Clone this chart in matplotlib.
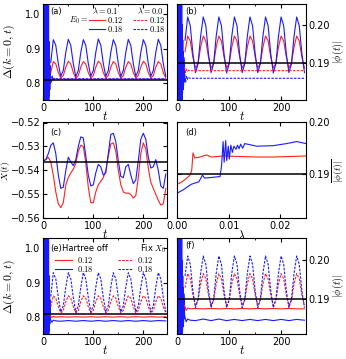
import numpy as np
import matplotlib
matplotlib.use('Agg')
import matplotlib.pyplot as plt

plt.rcParams['font.family'] = ['DejaVu Sans']
plt.rcParams['mathtext.fontset'] = 'cm'
plt.rcParams['xtick.direction'] = 'in'
plt.rcParams['ytick.direction'] = 'in'
plt.rcParams['xtick.top'] = True
plt.rcParams['ytick.right'] = True
plt.rcParams['xtick.major.size'] = 3
plt.rcParams['ytick.major.size'] = 3
plt.rcParams['xtick.minor.size'] = 1.5
plt.rcParams['ytick.minor.size'] = 1.5
plt.rcParams['font.size'] = 7

# ---------------- data ----------------
t_tr = np.arange(0, 14.5, 0.5)            # transient sample times
t_osc = np.arange(15, 246, 5)             # oscillation sample times

# transient (blue blob / red underneath), panels a & e (Delta)
delta_tr_blue = [0.81, 1.06, 0.74, 1.06, 0.74, 1.06, 0.74, 1.06, 0.74, 1.06, 0.74, 1.06, 0.74,
                 1.06, 0.74, 1.06, 0.74, 1.06, 0.74, 1.06, 0.74, 1.06, 0.74, 0.92, 0.76, 0.87,
                 0.78, 0.85, 0.80]
delta_tr_red = [0.81, 0.95, 0.76, 0.95, 0.76, 0.95, 0.76, 0.95, 0.76, 0.95, 0.76, 0.95, 0.76,
                0.95, 0.76, 0.93, 0.77, 0.91, 0.78, 0.89, 0.79, 0.87, 0.79, 0.85, 0.80, 0.84,
                0.80, 0.83, 0.81]
# transient, panels b & f (|phi|)
phi_tr_blue = [0.190, 0.207, 0.180, 0.207, 0.180, 0.207, 0.180, 0.207, 0.180, 0.207, 0.180,
               0.207, 0.180, 0.207, 0.180, 0.207, 0.180, 0.207, 0.180, 0.200, 0.182, 0.196,
               0.183, 0.193, 0.184, 0.1915, 0.185, 0.190, 0.186]
phi_tr_red = [0.190, 0.200, 0.181, 0.200, 0.181, 0.200, 0.181, 0.200, 0.181, 0.199, 0.182,
              0.198, 0.183, 0.197, 0.184, 0.196, 0.185, 0.195, 0.186, 0.194, 0.186, 0.193,
              0.187, 0.192, 0.187, 0.191, 0.1875, 0.190, 0.188]

# (a) lambda=0.1 Delta(k=0,t)
delta_a_018 = [0.860,
               0.926, 0.909, 0.856, 0.819, 0.836, 0.889,
               0.927, 0.909, 0.856, 0.818, 0.836, 0.889,
               0.926, 0.909, 0.856, 0.819, 0.836, 0.889,
               0.928, 0.910, 0.856, 0.819, 0.836, 0.889,
               0.926, 0.909, 0.856, 0.818, 0.836, 0.889,
               0.927, 0.909, 0.856, 0.819, 0.836, 0.889,
               0.926, 0.909, 0.856, 0.819, 0.836, 0.889,
               0.927, 0.909, 0.856, 0.819]
delta_a_012 = [0.830,
               0.862, 0.855, 0.830, 0.814, 0.821, 0.846,
               0.863, 0.855, 0.830, 0.813, 0.821, 0.846,
               0.862, 0.855, 0.830, 0.814, 0.821, 0.846,
               0.863, 0.856, 0.830, 0.814, 0.821, 0.846,
               0.862, 0.855, 0.830, 0.813, 0.821, 0.846,
               0.862, 0.855, 0.830, 0.814, 0.821, 0.846,
               0.863, 0.855, 0.830, 0.814, 0.821, 0.846,
               0.862, 0.855, 0.830, 0.814]
# (a) lambda=0.0 (flat after transient)
t_flat = [14, 16, 18, 20, 22, 25, 245]
delta_a0_012 = [0.820, 0.805, 0.815, 0.809, 0.812, 0.811, 0.811]
delta_a0_018 = [0.830, 0.800, 0.820, 0.806, 0.814, 0.812, 0.812]
delta_eq = 0.807

# (b) |phi(t)|
phi_b_018 = [0.1960,
             0.2021, 0.1998, 0.1925, 0.1875, 0.1898, 0.1971,
             0.2021, 0.1998, 0.1925, 0.1875, 0.1898, 0.1971,
             0.2021, 0.1998, 0.1925, 0.1874, 0.1898, 0.1971,
             0.2021, 0.1998, 0.1925, 0.1875, 0.1898, 0.1971,
             0.2021, 0.1998, 0.1925, 0.1875, 0.1898, 0.1971,
             0.2021, 0.1998, 0.1925, 0.1874, 0.1898, 0.1971,
             0.2021, 0.1998, 0.1925, 0.1875, 0.1898, 0.1971,
             0.2021, 0.1998, 0.1925, 0.1875]
phi_b_012 = [0.1930,
             0.1971, 0.1958, 0.1916, 0.1887, 0.1900, 0.1942,
             0.1971, 0.1958, 0.1916, 0.1887, 0.1900, 0.1942,
             0.1971, 0.1958, 0.1916, 0.1887, 0.1900, 0.1942,
             0.1971, 0.1958, 0.1916, 0.1887, 0.1900, 0.1942,
             0.1971, 0.1958, 0.1916, 0.1887, 0.1900, 0.1942,
             0.1971, 0.1958, 0.1916, 0.1887, 0.1900, 0.1942,
             0.1971, 0.1958, 0.1916, 0.1887, 0.1900, 0.1942,
             0.1971, 0.1958, 0.1916, 0.1887]
phi_b0_012 = [0.1890, 0.1875, 0.1884, 0.1879, 0.1881, 0.1880, 0.1880]
phi_b0_018 = [0.1880, 0.1850, 0.1866, 0.1857, 0.1861, 0.1860, 0.1860]
phi_eq = 0.190

# (c) X(t)
t_c = np.arange(0, 246, 5)
X_018 = [-0.536, -0.5355, -0.533, -0.5295, -0.5285, -0.533, -0.542, -0.5475, -0.547, -0.540,
         -0.5345, -0.5365, -0.538, -0.5355, -0.530, -0.526, -0.5265, -0.534, -0.542, -0.5465,
         -0.546, -0.541, -0.5375, -0.5385, -0.542, -0.541, -0.533, -0.525, -0.5245, -0.528,
         -0.536, -0.5425, -0.543, -0.5385, -0.5375, -0.542, -0.5455, -0.544, -0.536, -0.527,
         -0.5245, -0.527, -0.5345, -0.539, -0.5385, -0.5355, -0.540, -0.5465, -0.5475, -0.5415]
X_012 = [-0.536, -0.5355, -0.5345, -0.5365, -0.542, -0.549, -0.554, -0.5555, -0.5535, -0.546,
         -0.543, -0.541, -0.5395, -0.537, -0.532, -0.5295, -0.530, -0.537, -0.547, -0.5535,
         -0.5535, -0.549, -0.546, -0.5445, -0.543, -0.540, -0.534, -0.529, -0.5285, -0.532,
         -0.540, -0.546, -0.549, -0.5495, -0.5495, -0.550, -0.5515, -0.5505, -0.543, -0.533,
         -0.5285, -0.531, -0.539, -0.545, -0.5475, -0.550, -0.5525, -0.5545, -0.554, -0.5475]
X_eq = -0.5363

# (d) time-averaged |phi| vs lambda
lam_018 = [0.0, 0.0011, 0.0027, 0.0042, 0.0049, 0.0053, 0.0063, 0.0083, 0.0086, 0.0089, 0.0091,
           0.0094, 0.0096, 0.0099, 0.0101, 0.0104, 0.0107, 0.0110, 0.0114, 0.0117, 0.0120,
           0.0123, 0.0127, 0.0131, 0.0141, 0.0154, 0.0186, 0.0212, 0.0232, 0.025]
phibar_018 = [0.1863, 0.1869, 0.1880, 0.1885, 0.1898, 0.1892, 0.1893, 0.1895, 0.1916, 0.1963,
              0.1923, 0.1965, 0.1926, 0.1954, 0.1929, 0.1956, 0.1942, 0.1954, 0.1948, 0.1956,
              0.1949, 0.1958, 0.1950, 0.1959, 0.1957, 0.1954, 0.1955, 0.1959, 0.1963, 0.1959]
lam_012 = [0.0, 0.0011, 0.0024, 0.0028, 0.00305, 0.0034, 0.0044, 0.0057, 0.0066, 0.0089,
           0.0154, 0.0186, 0.025]
phibar_012 = [0.1880, 0.1886, 0.1897, 0.1907, 0.1941, 0.1931, 0.1933, 0.1937, 0.1933, 0.1935,
              0.1933, 0.1933, 0.1935]

# (e) Delta: Hartree off (solid) vs fix X0 (dashed)
delta_e_fix_018 = [0.860,
                   0.929, 0.911, 0.857, 0.815, 0.833, 0.887,
                   0.929, 0.911, 0.857, 0.815, 0.833, 0.887,
                   0.929, 0.911, 0.857, 0.815, 0.833, 0.887,
                   0.929, 0.911, 0.857, 0.815, 0.833, 0.887,
                   0.929, 0.911, 0.857, 0.815, 0.833, 0.887,
                   0.929, 0.911, 0.857, 0.815, 0.833, 0.887,
                   0.929, 0.911, 0.857, 0.815, 0.833, 0.887,
                   0.929, 0.911, 0.857, 0.815]
delta_e_fix_012 = [0.830,
                   0.862, 0.855, 0.830, 0.812, 0.819, 0.845,
                   0.862, 0.855, 0.830, 0.812, 0.819, 0.845,
                   0.862, 0.855, 0.830, 0.812, 0.819, 0.845,
                   0.862, 0.855, 0.830, 0.812, 0.819, 0.845,
                   0.862, 0.855, 0.830, 0.812, 0.819, 0.845,
                   0.862, 0.855, 0.830, 0.812, 0.819, 0.845,
                   0.862, 0.855, 0.830, 0.812, 0.819, 0.845,
                   0.862, 0.855, 0.830, 0.812]
t_off = [14, 17, 20, 25, 35, 50, 65, 80, 95, 110, 125, 140, 155, 170, 185, 200, 215, 230, 245]
delta_e_off_012 = [0.805, 0.799, 0.802, 0.800, 0.801, 0.800, 0.801, 0.800, 0.801, 0.800, 0.801,
                   0.800, 0.801, 0.800, 0.801, 0.800, 0.801, 0.800, 0.801]
delta_e_off_018 = [0.795, 0.785, 0.791, 0.789, 0.788, 0.790, 0.788, 0.790, 0.788, 0.790, 0.788,
                   0.790, 0.788, 0.790, 0.788, 0.790, 0.788, 0.790, 0.789]
delta_eq_e = 0.810

# (f) |phi|: Hartree off (solid) vs fix X0 (dashed)
phi_f_fix_018 = [0.1960,
                 0.2011, 0.1990, 0.1923, 0.1879, 0.1900, 0.1967,
                 0.2011, 0.1990, 0.1923, 0.1879, 0.1900, 0.1967,
                 0.2011, 0.1990, 0.1923, 0.1879, 0.1900, 0.1967,
                 0.2011, 0.1990, 0.1923, 0.1879, 0.1900, 0.1967,
                 0.2011, 0.1990, 0.1923, 0.1879, 0.1900, 0.1967,
                 0.2011, 0.1990, 0.1923, 0.1879, 0.1900, 0.1967,
                 0.2011, 0.1990, 0.1923, 0.1879, 0.1900, 0.1967,
                 0.2011, 0.1990, 0.1923, 0.1879]
phi_f_fix_012 = [0.1930,
                 0.1966, 0.1953, 0.1912, 0.1885, 0.1898, 0.1940,
                 0.1966, 0.1953, 0.1912, 0.1885, 0.1898, 0.1940,
                 0.1966, 0.1953, 0.1912, 0.1885, 0.1898, 0.1940,
                 0.1966, 0.1953, 0.1912, 0.1885, 0.1898, 0.1940,
                 0.1966, 0.1953, 0.1912, 0.1885, 0.1898, 0.1940,
                 0.1966, 0.1953, 0.1912, 0.1885, 0.1898, 0.1940,
                 0.1966, 0.1953, 0.1912, 0.1885, 0.1898, 0.1940,
                 0.1966, 0.1953, 0.1912, 0.1885]
phi_f_off_012 = [0.1885, 0.1872, 0.1878, 0.1876, 0.1877, 0.1876, 0.1877, 0.1876, 0.1877, 0.1876,
                 0.1877, 0.1876, 0.1877, 0.1876, 0.1877, 0.1876, 0.1877, 0.1876, 0.1876]
phi_f_off_018 = [0.1860, 0.1843, 0.1850, 0.1847, 0.1846, 0.1850, 0.1846, 0.1850, 0.1846, 0.1849,
                 0.1846, 0.1849, 0.1846, 0.1849, 0.1846, 0.1849, 0.1846, 0.1849, 0.1847]

E0_labels = ['0.12', '0.18']

# ---------------- figure ----------------
W, H = 346, 359
fig = plt.figure(figsize=(W / 100, H / 100), dpi=100)

def rect(x0, y0, x1, y1):
    return [x0 / W, 1 - y1 / H, (x1 - x0) / W, (y1 - y0) / H]

colL = (43.3, 167.3)
colR = (177.3, 306.0)
rows = [(4, 100), (122.5, 218.3), (238, 334.3)]

axa = fig.add_axes(rect(colL[0], rows[0][0], colL[1], rows[0][1]))
axb = fig.add_axes(rect(colR[0], rows[0][0], colR[1], rows[0][1]))
axc = fig.add_axes(rect(colL[0], rows[1][0], colL[1], rows[1][1]))
axd = fig.add_axes(rect(colR[0], rows[1][0], colR[1], rows[1][1]))
axe = fig.add_axes(rect(colL[0], rows[2][0], colL[1], rows[2][1]))
axf = fig.add_axes(rect(colR[0], rows[2][0], colR[1], rows[2][1]))

lw = 0.8
RED = '#ff2020'
BLUE = '#1a1aff'
tmax = 248
TL = 7        # tick label size
LEG = 6       # legend text size
PANEL = 6     # panel letter size
DASH = (2.2, 1.2)

def time_axis(ax):
    ax.set_xlim(0, tmax)
    ax.set_xticks([0, 100, 200])
    ax.set_xticks([50, 150], minor=True)
    ax.set_xlabel(r'$t$', fontsize=9, labelpad=-2)
    ax.tick_params(which='both', top=True, right=True, labelsize=TL, pad=2)

def right_axis(ax, label, x=1.19, fs=7.5):
    ax.yaxis.tick_right()
    ax.yaxis.set_label_position('right')
    ax.tick_params(which='both', left=True, right=True, labelsize=TL, pad=2)
    ax.set_ylabel(label, fontsize=fs, rotation=90)
    ax.yaxis.set_label_coords(x, 0.5)

def left_label(ax, label, x=-0.21, fs=8.5):
    ax.set_ylabel(label, fontsize=fs)
    ax.yaxis.set_label_coords(x, 0.5)

def m(s):
    return '$' + s + '$'

# (a)
ax = axa
ax.plot(t_tr, delta_tr_red, color=RED, lw=lw)
ax.plot(t_tr, delta_tr_blue, color=BLUE, lw=lw)
ax.plot(t_osc, delta_a_012, color=RED, lw=lw)
ax.plot(t_osc, delta_a_018, color=BLUE, lw=lw)
ax.plot(t_flat, delta_a0_012, color=RED, lw=lw, ls='--', dashes=DASH)
ax.plot(t_flat, delta_a0_018, color=BLUE, lw=lw, ls='--', dashes=DASH)
ax.axhline(delta_eq, color='k', lw=1.1)
ax.set_ylim(0.75, 1.03)
ax.set_yticks([0.8, 0.9, 1.0])
time_axis(ax)
left_label(ax, r'$\Delta(k=0,t)$')
ax.text(0.06, 0.92, '(a)', transform=ax.transAxes, fontsize=PANEL, va='center')
ax.text(0.50, 0.935, r'$\lambda=0.1$', transform=ax.transAxes, fontsize=LEG, va='center', ha='center')
ax.text(0.86, 0.935, r'$\lambda=0.0$', transform=ax.transAxes, fontsize=LEG, va='center', ha='center')
ax.text(0.365, 0.833, r'$E_0=$', transform=ax.transAxes, fontsize=LEG, va='center', ha='right')
for yy, c, lab in [(0.833, RED, E0_labels[0]), (0.736, BLUE, E0_labels[1])]:
    ax.plot([0.372, 0.498], [yy, yy], color=c, lw=lw, transform=ax.transAxes)
    ax.plot([0.724, 0.837], [yy, yy], color=c, lw=lw, ls='--', dashes=DASH, transform=ax.transAxes)
    ax.text(0.51, yy, m(lab), transform=ax.transAxes, fontsize=LEG, va='center')
    ax.text(0.85, yy, m(lab), transform=ax.transAxes, fontsize=LEG, va='center')

# (b)
ax = axb
ax.plot(t_tr, phi_tr_red, color=RED, lw=lw)
ax.plot(t_tr, phi_tr_blue, color=BLUE, lw=lw)
ax.plot(t_osc, phi_b_012, color=RED, lw=lw)
ax.plot(t_osc, phi_b_018, color=BLUE, lw=lw)
ax.plot(t_flat, phi_b0_012, color=RED, lw=lw, ls='--', dashes=DASH)
ax.plot(t_flat, phi_b0_018, color=BLUE, lw=lw, ls='--', dashes=DASH)
ax.axhline(phi_eq, color='k', lw=1.1)
ax.set_ylim(0.1803, 0.2055)
ax.set_yticks([0.19, 0.20])
time_axis(ax)
right_axis(ax, r'$|\phi(t)|$')
ax.text(0.06, 0.92, '(b)', transform=ax.transAxes, fontsize=PANEL, va='center')

# (c)
ax = axc
ax.plot(t_c, X_012, color=RED, lw=lw)
ax.plot(t_c, X_018, color=BLUE, lw=lw)
ax.axhline(X_eq, color='k', lw=1.1)
ax.set_ylim(-0.56, -0.52)
ax.set_yticks([-0.56, -0.55, -0.54, -0.53, -0.52])
time_axis(ax)
left_label(ax, r'$X(t)$', x=-0.25, fs=7)
ax.text(0.06, 0.9, '(c)', transform=ax.transAxes, fontsize=PANEL, va='center')

# (d)
ax = axd
ax.plot(lam_012, phibar_012, color=RED, lw=lw)
ax.plot(lam_018, phibar_018, color=BLUE, lw=lw)
ax.axhline(phi_eq, color='k', lw=1.1)
ax.set_xlim(0, 0.025)
ax.set_ylim(0.1814, 0.2)
ax.set_yticks([0.19, 0.20])
ax.set_xticks([0.0, 0.01, 0.02])
ax.set_xticklabels(['0.00', '0.01', '0.02'])
ax.set_xlabel(r'$\lambda$', fontsize=9, labelpad=-1)
ax.tick_params(which='both', top=True, labelsize=TL, pad=2)
right_axis(ax, r'$\overline{|\phi(t)|}$', x=1.185, fs=7)
ax.text(0.06, 0.9, '(d)', transform=ax.transAxes, fontsize=PANEL, va='center')

# (e)
ax = axe
ax.plot(t_tr, delta_tr_red, color=RED, lw=lw)
ax.plot(t_tr, delta_tr_blue, color=BLUE, lw=lw)
ax.plot(t_osc, delta_e_fix_012, color=RED, lw=lw, ls='--', dashes=DASH)
ax.plot(t_osc, delta_e_fix_018, color=BLUE, lw=lw, ls='--', dashes=DASH)
ax.plot(t_off, delta_e_off_012, color=RED, lw=lw)
ax.plot(t_off, delta_e_off_018, color=BLUE, lw=lw)
ax.axhline(delta_eq_e, color='k', lw=1.1)
ax.set_ylim(0.75, 1.03)
ax.set_yticks([0.8, 0.9, 1.0])
time_axis(ax)
left_label(ax, r'$\Delta(k=0,t)$')
ax.text(0.055, 0.89, '(e)', transform=ax.transAxes, fontsize=PANEL, va='center')
ax.text(0.15, 0.89, 'Hartree off', transform=ax.transAxes, fontsize=LEG, va='center', ha='left')
ax.text(0.99, 0.89, r'Fix $X_0$', transform=ax.transAxes, fontsize=LEG, va='center', ha='right')
for yy, c, lab in [(0.772, RED, E0_labels[0]), (0.680, BLUE, E0_labels[1])]:
    ax.plot([0.094, 0.231], [yy, yy], color=c, lw=lw, transform=ax.transAxes)
    ax.plot([0.60, 0.72], [yy, yy], color=c, lw=lw, ls='--', dashes=DASH, transform=ax.transAxes)
    ax.text(0.27, yy, m(lab), transform=ax.transAxes, fontsize=LEG, va='center')
    ax.text(0.756, yy, m(lab), transform=ax.transAxes, fontsize=LEG, va='center')

# (f)
ax = axf
ax.plot(t_tr, phi_tr_red, color=RED, lw=lw)
ax.plot(t_tr, phi_tr_blue, color=BLUE, lw=lw)
ax.plot(t_osc, phi_f_fix_012, color=RED, lw=lw, ls='--', dashes=DASH)
ax.plot(t_osc, phi_f_fix_018, color=BLUE, lw=lw, ls='--', dashes=DASH)
ax.plot(t_off, phi_f_off_012, color=RED, lw=lw)
ax.plot(t_off, phi_f_off_018, color=BLUE, lw=lw)
ax.axhline(phi_eq, color='k', lw=1.1)
ax.set_ylim(0.1811, 0.2057)
ax.set_yticks([0.19, 0.20])
time_axis(ax)
right_axis(ax, r'$|\phi(t)|$')
ax.text(0.06, 0.92, '(f)', transform=ax.transAxes, fontsize=PANEL, va='center')

fig.savefig('out.png', dpi=100)
